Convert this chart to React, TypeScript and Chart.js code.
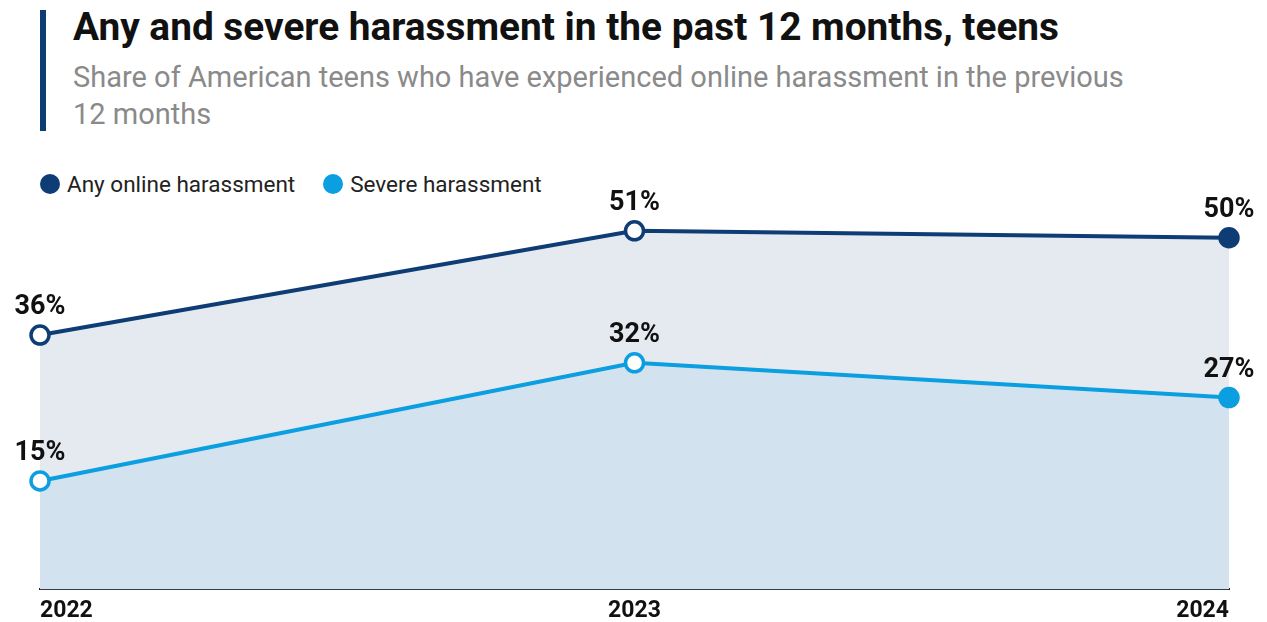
import React, { useEffect, useRef } from "react";
import { Chart, registerables } from "chart.js";

Chart.register(...registerables);

const years = ["2022", "2023", "2024"];
const anyHarassment = [36, 51, 50];
const severeHarassment = [15, 32, 27];
const seriesNames = ["Any online harassment", "Severe harassment"];

const NAVY = "#0e3c74";
const LIGHT = "#0b9ee0";

const labelPlugin = {
  id: "valueLabels",
  afterDatasetsDraw(chart: any) {
    const ctx = chart.ctx;
    ctx.save();
    ctx.font = "bold 27px Roboto";
    ctx.fillStyle = "#111";
    ctx.textAlign = "center";
    ctx.textBaseline = "alphabetic";
    chart.data.datasets.forEach((ds: any, i: number) => {
      const meta = chart.getDatasetMeta(i);
      meta.data.forEach((pt: any, j: number) => {
        ctx.fillText(ds.data[j] + "%", pt.x, pt.y - 21);
      });
    });
    ctx.restore();
  },
};

export default function App() {
  const ref = useRef<HTMLCanvasElement>(null);
  useEffect(() => {
    document.body.style.margin = "0";
    const chart = new Chart(ref.current!, {
      type: "line",
      data: {
        labels: years,
        datasets: [
          {
            label: seriesNames[0],
            data: anyHarassment,
            borderColor: NAVY,
            borderWidth: 4,
            backgroundColor: "#e5eaf1",
            fill: "+1",
            pointRadius: 9,
            pointBorderWidth: 3.5,
            pointBorderColor: NAVY,
            pointBackgroundColor: ["#ffffff", "#ffffff", NAVY],
            tension: 0,
            clip: false as any,
          },
          {
            label: seriesNames[1],
            data: severeHarassment,
            borderColor: LIGHT,
            borderWidth: 4,
            backgroundColor: "#d2e3ef",
            fill: "start",
            pointRadius: 9,
            pointBorderWidth: 3.5,
            pointBorderColor: LIGHT,
            pointBackgroundColor: ["#ffffff", "#ffffff", LIGHT],
            tension: 0,
            clip: false as any,
          },
        ],
      },
      options: {
        animation: false,
        responsive: false,
        layout: { padding: { left: 40, right: 38, top: 203, bottom: 0 } },
        plugins: {
          legend: { display: false },
          tooltip: { enabled: false },
          filler: { drawTime: "beforeDatasetsDraw" } as any,
        },
        scales: {
          y: { display: false, min: -0.6, max: 55 },
          x: {
            offset: false,
            grid: { display: false, drawTicks: false, tickLength: 0 },
            border: { display: true, color: "#1b2535", width: 2 },
            ticks: {
              align: "inner",
              padding: 8,
              color: "#111",
              font: { family: "Roboto", weight: "bold", size: 23 },
            },
          },
        },
      },
      plugins: [labelPlugin],
    });
    return () => chart.destroy();
  }, []);

  return (
    <div style={{ position: "fixed", left: 0, top: 0, width: 1267, height: 622, overflow: "hidden", background: "#fff", fontFamily: "Roboto" }}>
      <div style={{ position: "absolute", left: 40, top: 10, width: 6, height: 121, background: NAVY }} />
      <div style={{ position: "absolute", left: 73, top: 4, fontSize: 38.8, fontWeight: 700, color: "#111", whiteSpace: "nowrap" }}>
        Any and severe harassment in the past 12 months, teens
      </div>
      <div style={{ position: "absolute", left: 73, top: 59, width: 1070, fontSize: 29, lineHeight: "37px", color: "#8a8a8a" }}>
        Share of American teens who have experienced online harassment in the previous 12 months
      </div>
      <div style={{ position: "absolute", left: 40, top: 171, display: "flex", alignItems: "center", fontSize: 22.5, color: "#222" }}>
        <span style={{ width: 20, height: 20, borderRadius: 10, background: NAVY, display: "inline-block", marginRight: 7 }} />
        <span>{seriesNames[0]}</span>
        <span style={{ width: 20, height: 20, borderRadius: 10, background: LIGHT, display: "inline-block", marginLeft: 28, marginRight: 7 }} />
        <span>{seriesNames[1]}</span>
      </div>
      <canvas ref={ref} width={1267} height={633} style={{ position: "absolute", left: 0, top: 0 }} />
    </div>
  );
}
